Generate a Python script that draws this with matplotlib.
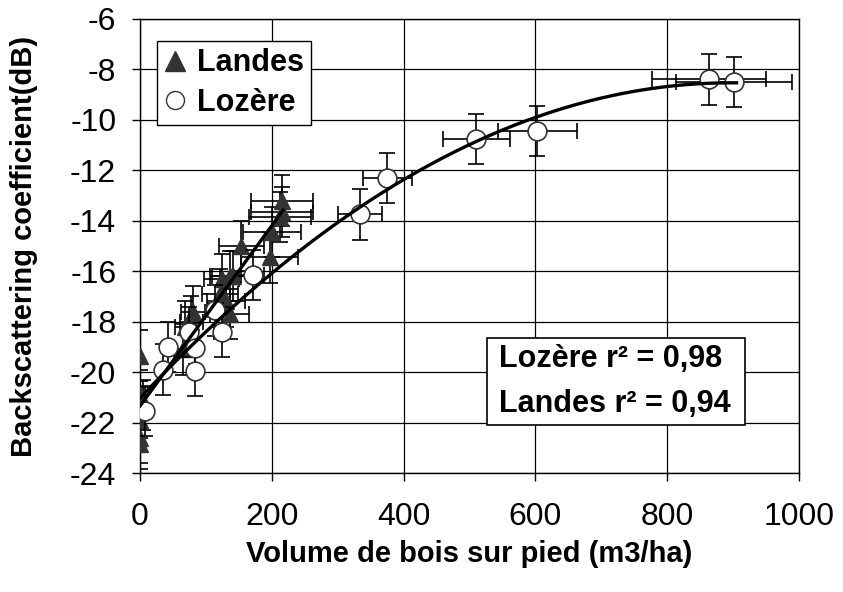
import numpy as np
import matplotlib.pyplot as plt
from matplotlib.patches import Rectangle

plt.rcParams['font.family'] = ['Liberation Sans', 'DejaVu Sans']
plt.rcParams['axes.unicode_minus'] = False

# Lozere stands (open circles)
lozere_vol = [8, 35, 42, 75, 84, 83, 114, 124, 171, 334, 375, 510, 603, 863, 901]
lozere_db = [-21.55, -19.9, -19.0, -18.4, -19.05, -19.95, -17.55, -18.4, -16.15,
             -13.75, -12.3, -10.75, -10.45, -8.4, -8.5]
lozere_xerr = [0.8, 3.5, 4.2, 7.5, 8.4, 8.3, 11.4, 12.4, 17.1, 33, 37, 51, 60, 86, 88]
lozere_yerr = [1.0] * len(lozere_vol)

# Landes stands (filled triangles)
landes_vol = [0, 0, 0, 0, 0, 0, 5, 66, 68, 78, 80, 121, 124, 131, 136, 136, 141,
              154, 197, 200, 212, 215, 215]
landes_db = [-19.35, -20.9, -21.6, -21.9, -22.6, -22.85, -21.3, -19.1, -18.2, -18.0,
             -17.6, -16.9, -16.3, -17.2, -16.2, -17.7, -16.2, -15.0, -15.45, -14.45,
             -13.85, -13.65, -13.2]
landes_xerr = [0, 0, 0, 0, 0, 0, 1, 14, 15, 17, 18, 27, 27, 29, 30, 30, 31,
               34, 43, 44, 47, 47, 47]
landes_yerr = [1.0] * len(landes_vol)

r2_lines = ['Lozère r² = 0,98', 'Landes r² = 0,94']

# trend lines (quadratic for Lozere, linear for Landes)
p_loz = np.polyfit(lozere_vol, lozere_db, 2)
p_lan = np.polyfit(landes_vol, landes_db, 1)
xs_loz = np.linspace(0, 905, 200)
xs_lan = np.linspace(0, 217, 50)

fig = plt.figure(figsize=(8.43, 5.92), dpi=100)
ax = fig.add_axes([0.166, 0.201, 0.782, 0.767])

ax.grid(True, color='black', linewidth=0.9)
ax.set_axisbelow(True)

ax.errorbar(landes_vol, landes_db, xerr=landes_xerr, yerr=landes_yerr, fmt='^',
            color='#333333', markersize=12, ecolor='black', elinewidth=1.2,
            capsize=6, capthick=1.2, zorder=3)
ax.errorbar(lozere_vol, lozere_db, xerr=lozere_xerr, yerr=lozere_yerr, fmt='o',
            markerfacecolor='white', markeredgecolor='#333333', markeredgewidth=1.2,
            markersize=13.5, ecolor='black', elinewidth=1.2, capsize=6, capthick=1.2,
            zorder=4)

ax.plot(xs_loz, np.polyval(p_loz, xs_loz), color='black', linewidth=2.4, zorder=5)
ax.plot(xs_lan, np.polyval(p_lan, xs_lan), color='black', linewidth=2.4, zorder=5)

ax.set_xlim(0, 1000)
ax.set_ylim(-24, -6)
ax.set_xticks(np.arange(0, 1001, 200))
ax.set_yticks(np.arange(-24, -5, 2))
ax.tick_params(labelsize=23, direction='out', length=6, width=1)
ax.tick_params(axis='x', pad=15)
ax.tick_params(axis='y', pad=11)
for s in ax.spines.values():
    s.set_color('black')
    s.set_linewidth(1)

ax.set_xlabel('Volume de bois sur pied (m3/ha)', fontsize=21, fontweight='bold')
ax.set_ylabel('Backscattering coefficient(dB)', fontsize=21, fontweight='bold')
ax.xaxis.set_label_coords(0.5, -0.148)
ax.yaxis.set_label_coords(-0.155, 0.5)

# legend
h_lan = plt.Line2D([], [], marker='^', color='#333333', linestyle='none', markersize=14)
h_loz = plt.Line2D([], [], marker='o', markerfacecolor='white', markeredgecolor='#333333',
                   linestyle='none', markersize=13)
leg = ax.legend([h_lan, h_loz], ['Landes', 'Lozère'], loc='upper left',
                bbox_to_anchor=(0.026, 0.952), prop={'size': 22, 'weight': 'bold'},
                fancybox=False, framealpha=1, edgecolor='black', handlelength=0.7,
                handletextpad=0.35, borderpad=0.25, labelspacing=0.3, borderaxespad=0)
leg.get_frame().set_linewidth(1)

# r2 box
ax.add_patch(Rectangle((0.527, 0.105), 0.391, 0.192, transform=ax.transAxes,
                       facecolor='white', edgecolor='black', linewidth=1.2, zorder=6))
for yb, line in zip([0.2335, 0.1344], r2_lines):
    ax.text(0.545, yb, line, transform=ax.transAxes, fontsize=22, fontweight='bold',
            va='baseline', ha='left', zorder=7)

fig.savefig('out.png', dpi=100)
